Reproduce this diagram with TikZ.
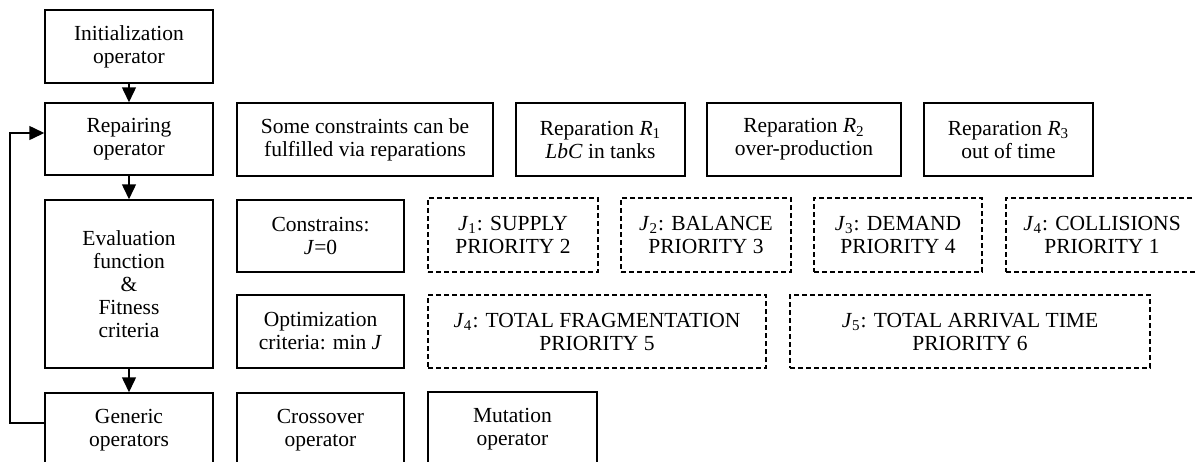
\documentclass[tikz,border=0pt]{standalone}
\usepackage{fontspec}
\setmainfont{Liberation Serif}
\usetikzlibrary{arrows.meta}
\newcommand{\Jsub}[1]{\textit{J}\textsubscript{#1}}
\newcommand{\Rsub}[1]{\textit{R}\textsubscript{#1}}
\tikzset{
  box/.style 2 args={draw, line width=0.75pt, inner sep=0pt, align=center,
    minimum width=#1*0.5pt, minimum height=#2*0.5pt,
    font=\fontsize{10.75pt}{11.5pt}\selectfont},
  dbox/.style 2 args={box={#1}{#2}, dash pattern=on 2.4pt off 1.6pt, line width=0.6pt},
  flow/.style={line width=0.75pt, -{Triangle[width=7pt,length=7.5pt]}}
}
\begin{document}
\begin{tikzpicture}[x=0.5pt,y=-0.5pt]
\clip (0,0) rectangle (1195,461);
\fill[white] (0,0) rectangle (1195,461);
% left column
\node[box={168}{73}] (init) at (129,46.5) {Initialization\\operator};
\node[box={168}{72}] (rep) at (129,139) {Repairing\\operator};
\node[box={168}{168}] (eval) at (129,284) {Evaluation\\function\\\&\\Fitness\\criteria};
\node[box={168}{74}] (gen) at (129,430) {Generic\\operators};
% repair row
\node[box={256}{73}] (some) at (365,139.5) {Some constraints can be\\fulfilled via reparations};
\node[box={169}{73}] (r1) at (600.5,139.5) {Reparation \Rsub{1}\\\textit{LbC} in tanks};
\node[box={194}{73}] (r2) at (804,139.5) {Reparation \Rsub{2}\\over-production};
\node[box={169}{73}] (r3) at (1008.5,139.5) {Reparation \Rsub{3}\\out of time};
% constraints row
\node[box={167}{72}] (constr) at (320.5,236) {Constrains:\\\textit{J}=0};
\node[dbox={170}{74}] (j1) at (513,235) {\Jsub{1}: SUPPLY\\PRIORITY 2};
\node[dbox={170}{74}] (j2) at (706,235) {\Jsub{2}: BALANCE\\PRIORITY 3};
\node[dbox={168}{74}] (j3) at (898,235) {\Jsub{3}: DEMAND\\PRIORITY 4};
\node[dbox={192}{74}] (j4c) at (1102,235) {\Jsub{4}: COLLISIONS\\PRIORITY 1};
% optimization row
\node[box={167}{73}] (opt) at (320.5,331.5) {Optimization\\criteria: min \textit{J}};
\node[dbox={338}{73}] (j4f) at (597,331.5) {\Jsub{4}: TOTAL FRAGMENTATION\\PRIORITY 5};
\node[dbox={360}{73}] (j5) at (970,331.5) {\Jsub{5}: TOTAL ARRIVAL TIME\\PRIORITY 6};
% operators row
\node[box={167}{74}] (cross) at (320.5,430) {Crossover\\operator};
\node[box={169}{75}] (mut) at (512.5,429.5) {Mutation\\operator};
% connectors
\draw[flow] (init) -- (rep);
\draw[flow] (rep) -- (eval);
\draw[flow] (eval) -- (gen);
\coordinate (fb1) at (10,423);
\coordinate (fb2) at (10,133);
\draw[flow] (gen.west |- fb1) -- (fb1) -- (fb2) -- (rep.west |- fb2);
\end{tikzpicture}
\end{document}
